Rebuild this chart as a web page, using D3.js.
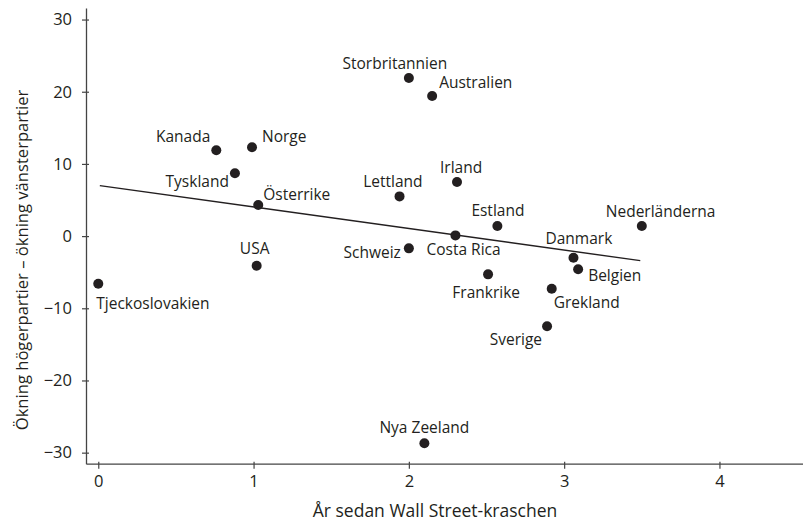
<!DOCTYPE html>
<html>
<head>
<meta charset="utf-8">
<script src="https://d3js.org/d3.v7.min.js"></script>
<style>
  body { margin: 0; background: #fff; }
  text { font-family: "Open Sans", sans-serif; fill: #231f20; }
</style>
</head>
<body>
<div id="chart"></div>
<script>
// data
var countries = ["Tjeckoslovakien", "USA", "Österrike", "Tyskland", "Kanada", "Norge",
  "Storbritannien", "Australien", "Lettland", "Irland", "Estland", "Nederländerna",
  "Costa Rica", "Schweiz", "Danmark", "Belgien", "Frankrike", "Grekland", "Sverige", "Nya Zeeland"];
var yearsSinceCrash = [0.0, 1.02, 1.03, 0.88, 0.76, 0.99,
  2.0, 2.15, 1.94, 2.31, 2.57, 3.5,
  2.3, 2.0, 3.06, 3.09, 2.51, 2.92, 2.89, 2.1];
var rightMinusLeft = [-6.6, -4.1, 4.3, 8.7, 11.9, 12.3,
  21.9, 19.4, 5.5, 7.5, 1.4, 1.4,
  0.1, -1.7, -3.0, -4.6, -5.3, -7.3, -12.5, -28.7];
var trendX = [0.01, 3.49];
var trendY = [7.0, -3.4];
var xTicks = [0, 1, 2, 3, 4];
var yTicks = [-30, -20, -10, 0, 10, 20, 30];

// label placement (anchor, dx, dy) relative to the dot
var labelPos = {
  "Tjeckoslovakien": ["start", -2, 25],
  "USA": ["middle", -2, -12],
  "Österrike": ["start", 5, -5],
  "Tyskland": ["end", -6, 14],
  "Kanada": ["end", -6, -8],
  "Norge": ["start", 10, -5],
  "Storbritannien": ["middle", -14, -9],
  "Australien": ["start", 7, -8],
  "Lettland": ["end", 23, -9],
  "Irland": ["start", -17, -9],
  "Estland": ["start", -26, -10],
  "Nederländerna": ["start", -36, -9],
  "Costa Rica": ["start", -29, 20],
  "Schweiz": ["end", -8, 10],
  "Danmark": ["start", -28, -14],
  "Belgien": ["start", 10, 12],
  "Frankrike": ["end", 32, 24],
  "Grekland": ["start", 2, 19],
  "Sverige": ["end", -5, 19],
  "Nya Zeeland": ["middle", 0, -10]
};

var W = 803, H = 523;
var margin = {top: 8, left: 86, right: 0, bottom: 60};
var width = W - margin.left - margin.right,
    height = H - margin.top - margin.bottom + 0.7;

var x = d3.scaleLinear().domain([-0.079, 4.538]).range([0, width]);
var y = d3.scaleLinear().domain([-31.53, 31.6]).range([height, 0]);

var svg = d3.select("#chart").append("svg")
    .attr("width", W)
    .attr("height", H);
var g = svg.append("g")
    .attr("transform", "translate(" + margin.left + "," + margin.top + ")");

// y axis
g.append("g")
    .call(d3.axisLeft(y).tickValues(yTicks).tickSize(4).tickSizeOuter(0)
      .tickFormat(function(d) { return d < 0 ? "\u2212" + Math.abs(d) : d; }))
    .call(function(a) {
      a.select(".domain").attr("stroke", "#444").attr("stroke-width", 1.3);
      a.selectAll(".tick line").attr("x1", 3).attr("stroke", "#444").attr("stroke-width", 1.2);
      a.selectAll(".tick text").attr("x", -14).style("font-size", "16.5px")
        .style("font-family", "'Open Sans', sans-serif").attr("fill", "#231f20");
    });

// x axis
g.append("g")
    .attr("transform", "translate(0," + height + ")")
    .call(d3.axisBottom(x).tickValues(xTicks).tickSize(5).tickSizeOuter(0).tickFormat(d3.format("d")))
    .call(function(a) {
      a.select(".domain").attr("stroke", "#444").attr("stroke-width", 1.3);
      a.selectAll(".tick line").attr("y1", -2).attr("stroke", "#444").attr("stroke-width", 1.2);
      a.selectAll(".tick text").attr("y", 12).style("font-size", "16.5px")
        .style("font-family", "'Open Sans', sans-serif").attr("fill", "#231f20");
    });

// trend line
g.append("line")
    .attr("x1", x(trendX[0])).attr("y1", y(trendY[0]))
    .attr("x2", x(trendX[1])).attr("y2", y(trendY[1]))
    .attr("stroke", "#231f20").attr("stroke-width", 1.4);

var data = countries.map(function(c, i) {
  return {name: c, x: yearsSinceCrash[i], y: rightMinusLeft[i]};
});

g.selectAll("circle.dot")
    .data(data)
  .enter().append("circle")
    .attr("class", "dot")
    .attr("cx", function(d) { return x(d.x); })
    .attr("cy", function(d) { return y(d.y); })
    .attr("r", 5)
    .attr("fill", "#231f20");

g.selectAll("text.lbl")
    .data(data)
  .enter().append("text")
    .attr("class", "lbl")
    .attr("x", function(d) { return x(d.x) + labelPos[d.name][1]; })
    .attr("y", function(d) { return y(d.y) + labelPos[d.name][2]; })
    .attr("text-anchor", function(d) { return labelPos[d.name][0]; })
    .style("font-size", "15.5px")
    .text(function(d) { return d.name; });

// axis titles
svg.append("text")
    .attr("x", 435)
    .attr("y", 517)
    .attr("text-anchor", "middle")
    .style("font-size", "17.5px")
    .text("År sedan Wall Street-kraschen");

svg.append("text")
    .attr("transform", "translate(28,260) rotate(-90)")
    .attr("text-anchor", "middle")
    .style("font-size", "16.6px")
    .text("Ökning högerpartier – ökning vänsterpartier");
</script>
</body>
</html>
